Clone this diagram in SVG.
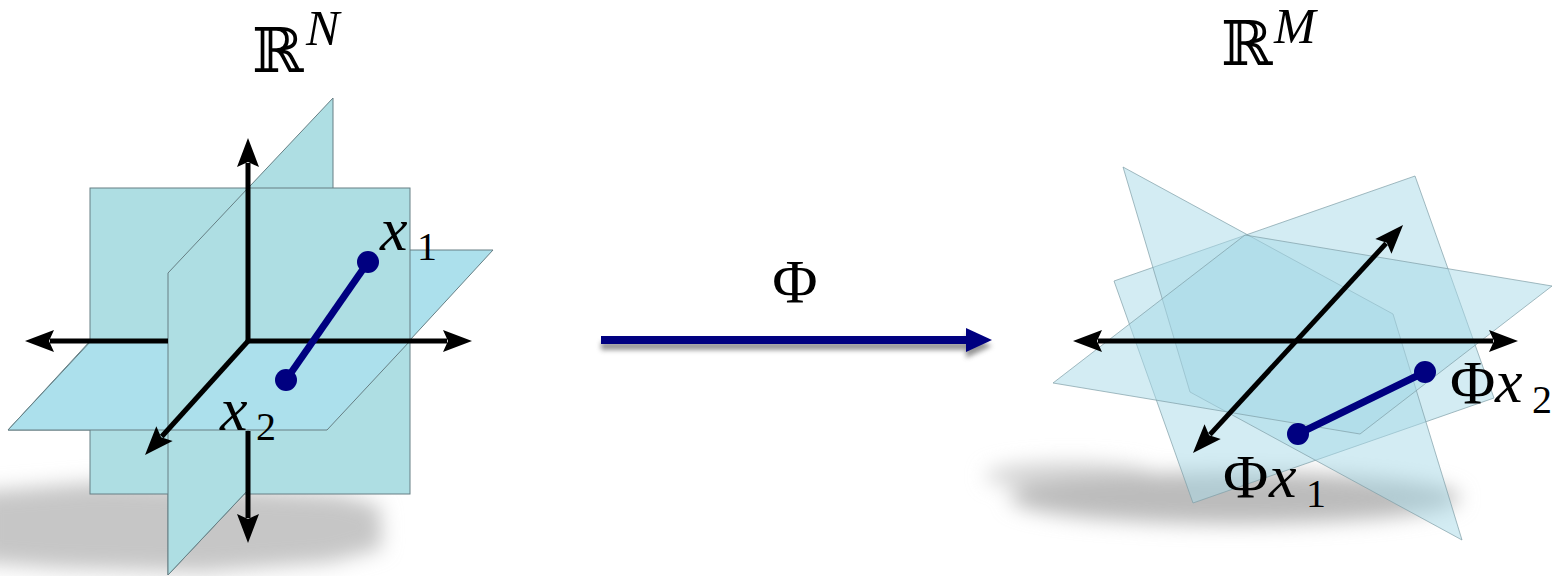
<svg xmlns="http://www.w3.org/2000/svg" width="1568" height="576" viewBox="0 0 1568 576">
  <style>
    .tplane { fill: #aedee3; stroke: #667f84; stroke-width: 1; }
    .hplane { fill: #ace0ec; stroke: #667f84; stroke-width: 1; }
    .edge { fill: none; stroke: #667f84; stroke-width: 1; }
    .rplane { fill: #a7d9e7; fill-opacity: 0.5; stroke: #7f9ea6; stroke-opacity: 0.7; stroke-width: 1; }
    .axis { stroke: #000; stroke-width: 5; fill: none; }
    .seg { stroke: #000080; stroke-width: 7; fill: none; }
    .dot { fill: #000080; }
    .math { font-family: "Liberation Serif", "DejaVu Serif", serif; fill: #000; }
    .it { font-style: italic; }
    .bb { font-family: "DejaVu Serif", "DejaVu Sans", serif; fill: #000; }
  </style>
  <defs>
    <marker id="ah" markerUnits="userSpaceOnUse" markerWidth="36" markerHeight="28" viewBox="-2 -14 36 28" refX="4" refY="0" orient="auto-start-reverse">
      <path d="M0,-11 L29,0 L0,11 L5,0 Z" fill="#000"/>
    </marker>
    <filter id="blurBig" x="-30%" y="-100%" width="160%" height="300%">
      <feGaussianBlur stdDeviation="10"/>
    </filter>
    <filter id="blurSmall" x="-10%" y="-200%" width="120%" height="500%">
      <feGaussianBlur stdDeviation="2.5"/>
    </filter>
  </defs>

  <rect width="1568" height="576" fill="#fff"/>

  <!-- Left space R^N -->
  <g id="space-RN">
    <path d="M-20,492 L100,482 L250,490 L340,495 L380,506 L382,548 L330,562 L200,572 L60,568 L-20,562 Z" fill="#c6c6c6" filter="url(#blurBig)"/>
    <!-- side plane (full, back part visible above back plane) -->
    <polygon class="tplane" points="168,273 333,98 333,400 168,575"/>
    <!-- horizontal plane (full) -->
    <polygon class="hplane" points="8,430 327,430 493,250 174,250"/>
    <!-- back plane -->
    <rect class="tplane" x="90" y="188" width="320" height="306"/>
    <!-- side plane front part -->
    <polygon class="tplane" points="168,273 248,188 248,490 168,575"/>
    <!-- horizontal plane front part -->
    <polygon points="91,341 410,341 327,430 8,430" fill="#ace0ec"/>
    <path class="edge" d="M91,341 L8,430 L327,430 L410,341"/>
    <!-- side plane wedge above z-axis -->
    <polygon points="248,341 168,341 168,429.6" fill="#aedee3"/>
    <path class="edge" d="M168,341 L168,430"/>
    <!-- axes -->
    <line class="axis" x1="248" y1="343" x2="248" y2="163" marker-end="url(#ah)"/>
    <line class="axis" x1="248" y1="431" x2="248" y2="518" marker-end="url(#ah)"/>
    <line class="axis" x1="246" y1="341" x2="447" y2="341" marker-end="url(#ah)"/>
    <line class="axis" x1="168" y1="341" x2="50" y2="341" marker-end="url(#ah)"/>
    <line class="axis" x1="249" y1="340" x2="161.8" y2="436.5" marker-end="url(#ah)"/>
    <!-- segment -->
    <line class="seg" x1="368" y1="262" x2="286" y2="380"/>
    <circle class="dot" cx="368" cy="262" r="11"/>
    <circle class="dot" cx="286" cy="380" r="11"/>
    <!-- labels -->
    <text class="bb" x="252" y="72" font-size="62">ℝ</text>
    <text class="math it" x="306" y="45" font-size="50">N</text>
    <text class="math it" x="380" y="250" font-size="62">x</text>
    <text class="math" x="417" y="260" font-size="40">1</text>
    <text class="math it" x="220" y="430" font-size="62">x</text>
    <text class="math" x="256" y="440" font-size="40">2</text>
  </g>

  <!-- Mapping arrow Phi -->
  <g id="connectors">
    <g filter="url(#blurSmall)" fill="#7a7a7a" opacity="0.8">
      <rect x="601" y="342" width="370" height="8"/>
      <polygon points="966,334 992,346 966,358"/>
    </g>
    <line x1="601" y1="340" x2="968" y2="340" stroke="#000080" stroke-width="8"/>
    <polygon points="966,328 992,340 966,352" fill="#000080"/>
    <text class="math" x="795" y="302" font-size="62" text-anchor="middle">Φ</text>
  </g>

  <!-- Right space R^M -->
  <g id="space-RM">
    <g filter="url(#blurBig)">
      <ellipse cx="1070" cy="476" rx="85" ry="14" fill="#d4d4d4"/>
      <ellipse cx="1235" cy="498" rx="225" ry="26" fill="#bcbcbc"/>
    </g>
    <polygon class="rplane" points="1114,281 1415,176 1494,398 1193,503"/>
    <polygon class="rplane" points="1123,167 1393,314 1462,540 1190,392"/>
    <polygon class="rplane" points="1053,383 1245,235 1552,286 1360,434"/>
    <line class="axis" x1="1098" y1="341" x2="1493" y2="341" marker-start="url(#ah)" marker-end="url(#ah)"/>
    <line class="axis" x1="1386.1" y1="243.4" x2="1209.9" y2="434.6" marker-start="url(#ah)" marker-end="url(#ah)"/>
    <line class="seg" x1="1425" y1="372" x2="1298" y2="434"/>
    <circle class="dot" cx="1425" cy="372" r="11"/>
    <circle class="dot" cx="1298" cy="434" r="11"/>
    <text class="bb" x="1221" y="65" font-size="62">ℝ</text>
    <text class="math it" x="1274" y="43" font-size="50">M</text>
    <text class="math" x="1223" y="497" font-size="62">Φ</text>
    <text class="math it" x="1269" y="497" font-size="62">x</text>
    <text class="math" x="1306" y="507" font-size="40">1</text>
    <text class="math" x="1450" y="403" font-size="62">Φ</text>
    <text class="math it" x="1495" y="402" font-size="62">x</text>
    <text class="math" x="1532" y="413" font-size="40">2</text>
  </g>
</svg>
